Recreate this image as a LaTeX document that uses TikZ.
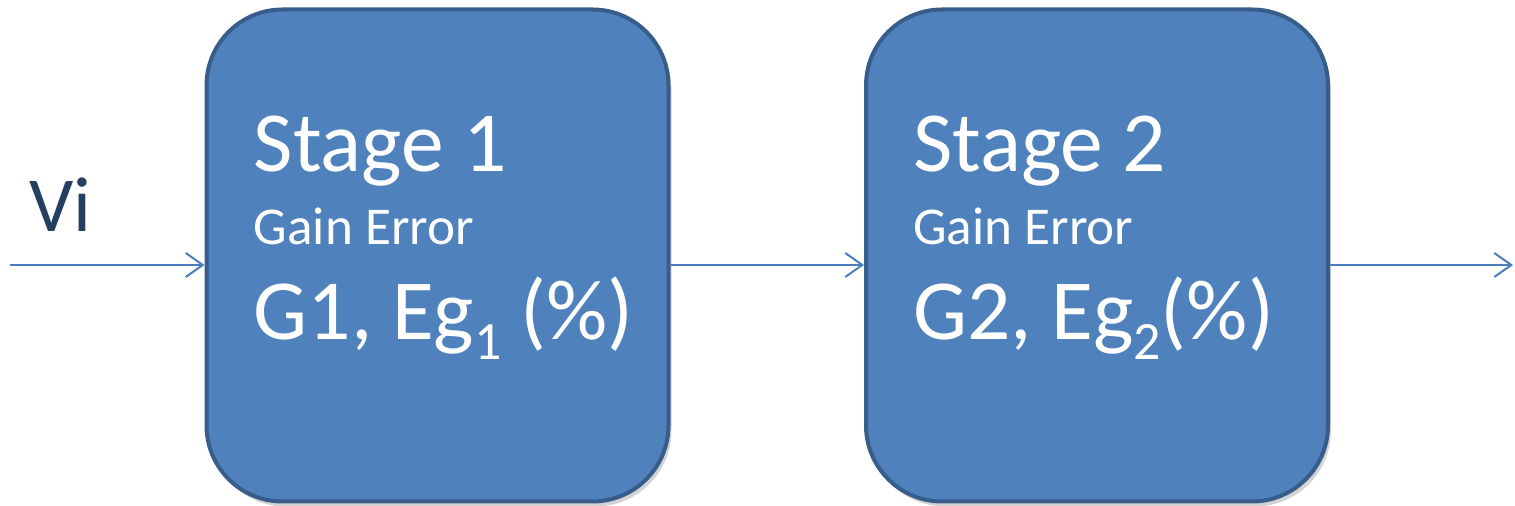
\documentclass[tikz,border=0pt]{standalone}
\usepackage{fontspec}
\setmainfont{Carlito}
\usetikzlibrary{arrows.meta,calc,positioning,shadows}
\definecolor{boxblue}{HTML}{4F81BD}
\definecolor{boxedge}{HTML}{385D8A}
\definecolor{wireblue}{HTML}{4A7EBB}
\definecolor{vitext}{HTML}{243F60}
\newcommand{\lowsub}[1]{\raisebox{-10pt}{\fontsize{27}{32}\selectfont #1}}

\begin{document}
\begin{tikzpicture}[x=.5pt,y=.5pt,>={Straight Barb[length=8.5pt,width=12pt]},
  stagebox/.style={draw=boxedge,line width=2pt,fill=boxblue,rounded corners=38pt,
    minimum width=231pt,minimum height=246pt,inner sep=0pt,
    drop shadow={shadow xshift=1.5pt,shadow yshift=-2.5pt,opacity=.35}},
  bigtxt/.style={text=white,inner sep=0pt,anchor=base west,font=\fontsize{42.8}{50}\selectfont},
  smalltxt/.style={bigtxt,font=\fontsize{26.6}{31}\selectfont},
  vilabel/.style={text=vitext,inner sep=0pt,anchor=base west,font=\fontsize{39}{47}\selectfont},
  wire/.style={->,wireblue,line width=1pt}]
 \useasboundingbox (0,0) rectangle (1515,506);
 % the two stages
 \node[stagebox] (box1) at (437.5,250.5) {};
 \node[stagebox] (box2) at (1097,250.5) {};
 \foreach \k in {1,2}{
  \node[bigtxt] (name\k) at ($(box\k.west)+(49,83.5)$) {Stage \k};
  \node[smalltxt] (err\k) at ($(box\k.west)+(49,10.5)$) {Gain Error};
 }
 \node[bigtxt] (gain1) at ($(box1.west)+(49,-84.5)$) {G1, Eg\lowsub{1} (\%)};
 \node[bigtxt] (gain2) at ($(box2.west)+(49,-84.5)$) {G2, Eg\lowsub{2}(\%)};
 % signal path
 \node[vilabel] (vi) at (29,274) {Vi};
 \coordinate (in) at (10,241);
 \coordinate (out) at (1513,241);
 \draw[wire] (in) -- (in -| box1.west);
 \draw[wire] (in -| box1.east) -- (in -| box2.west);
 \draw[wire] (in -| box2.east) -- (out);
\end{tikzpicture}
\end{document}
